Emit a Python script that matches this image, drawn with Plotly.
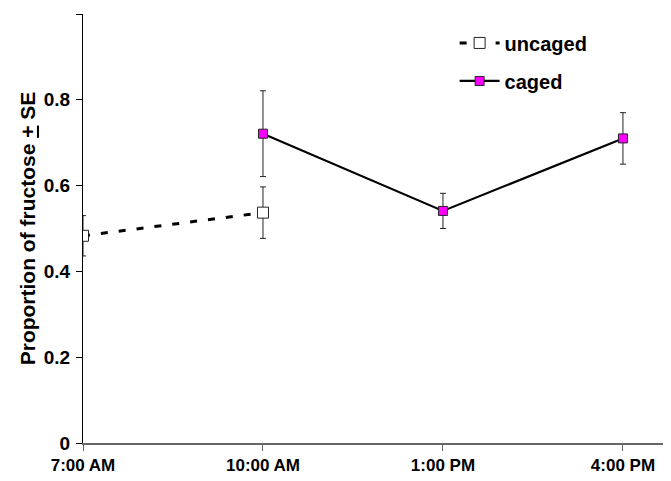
import plotly.graph_objects as go

times = ["7:00 AM", "10:00 AM", "1:00 PM", "4:00 PM"]

uncaged_x = ["7:00 AM", "10:00 AM"]
uncaged_y = [0.483, 0.537]
uncaged_se = [0.047, 0.060]

caged_x = ["10:00 AM", "1:00 PM", "4:00 PM"]
caged_y = [0.721, 0.541, 0.710]
caged_se = [0.100, 0.041, 0.060]

y_ticks = [0, 0.2, 0.4, 0.6, 0.8, 1]
y_ticklabels = ["0", "0.2", "0.4", "0.6", "0.8", "1"]

font_family = "Liberation Sans, Arial, sans-serif"

fig = go.Figure()
fig.add_trace(go.Scatter(
    x=uncaged_x, y=uncaged_y, name="<b>uncaged</b>", mode="lines+markers",
    legendgroup="u",
    line=dict(color="black", width=3, dash="7px,11px"),
    marker=dict(symbol="square", size=11, color="white", line=dict(color="#222", width=1)),
    error_y=dict(type="data", array=uncaged_se, color="#222", thickness=1, width=3),
))
fig.add_trace(go.Scatter(
    x=caged_x, y=caged_y, name="<b>caged</b>", mode="lines+markers",
    legendgroup="c",
    line=dict(color="black", width=2.2),
    marker=dict(symbol="square", size=9, color="#ff00ff", line=dict(color="#222", width=1)),
    error_y=dict(type="data", array=caged_se, color="#222", thickness=1, width=3),
))

fig.update_layout(
    width=663, height=473,
    margin=dict(l=75, r=0, t=6, b=38),
    paper_bgcolor="white", plot_bgcolor="white",
    font=dict(family=font_family, color="black"),
    showlegend=True,
    legend=dict(x=0.632, y=0.978, xanchor="left", yanchor="top",
                font=dict(size=20, family=font_family, color="black"),
                bgcolor="rgba(0,0,0,0)", itemwidth=40, tracegroupgap=9),
    xaxis=dict(
        type="category", categoryorder="array", categoryarray=times,
        range=[0, 3.267], showgrid=False, zeroline=False, automargin=False,
        showline=True, linecolor="#666", linewidth=1.5,
        ticks="outside", ticklen=6, tickcolor="#666", tickwidth=1,
        tickvals=times, ticktext=["<b>%s</b>" % t for t in times],
        tickfont=dict(size=17, family=font_family, color="black"),
    ),
    yaxis=dict(
        range=[0, 1], showgrid=False, zeroline=False, automargin=False,
        showline=True, linecolor="black", linewidth=1,
        ticks="outside", ticklen=6, tickcolor="black", ticklabelstandoff=2,
        tickvals=y_ticks, ticktext=["<b>%s</b>" % t for t in y_ticklabels],
        tickfont=dict(size=19, family=font_family, color="black"),
        title=dict(text="<b>Proportion of fructose <u>+</u> SE</b>",
                   font=dict(size=21, family=font_family, color="black"),
                   standoff=2),
    ),
)

fig.write_html("out.html")
